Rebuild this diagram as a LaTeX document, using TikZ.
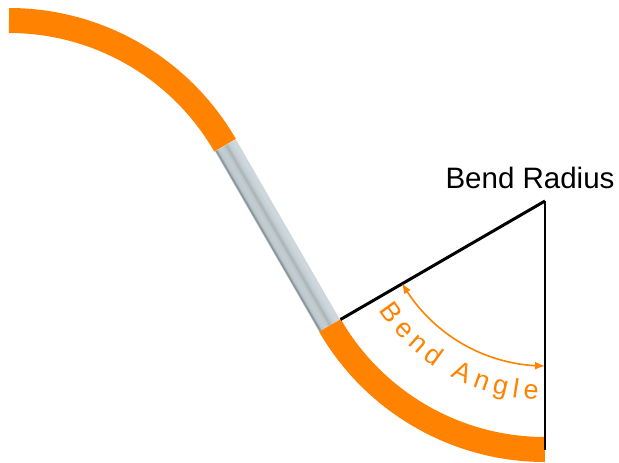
\documentclass[tikz,border=0pt]{standalone}
\usepackage{fontspec}
\setmainfont{Liberation Sans}
\usetikzlibrary{arrows.meta,decorations.text,bending}
\definecolor{bendorange}{HTML}{FF8200}
\definecolor{tubelight}{HTML}{CDD7DC}
\definecolor{tubepale}{HTML}{C3CED3}
\definecolor{tubemid}{HTML}{AAB4B6}
\definecolor{tubesoft}{HTML}{BCC6CA}
\definecolor{tubedark}{HTML}{7F8C94}
\pgfdeclareverticalshading{tubeshade}{100bp}{
  color(0bp)=(tubelight);
  color(25bp)=(tubelight);
  color(33bp)=(tubelight);
  color(42bp)=(tubepale);
  color(49bp)=(tubemid);
  color(53bp)=(tubesoft);
  color(60bp)=(tubepale);
  color(68bp)=(tubesoft);
  color(73bp)=(tubedark);
  color(75bp)=(tubesoft);
  color(100bp)=(tubesoft)}
\tikzset{
  pipe/.style={bendorange,line width=25pt},
  radiusline/.style={black,line cap=butt},
  anglearrow/.style={bendorange,line width=1.6pt,{Latex[length=10pt,width=8pt,flex]}-{Latex[length=10pt,width=8pt,flex]}},
  labeltext/.style={inner sep=0pt,font=\fontsize{29.5}{31}\selectfont,text=black}
}
\begin{document}
\begin{tikzpicture}[x=1pt,y=1pt]
\useasboundingbox (0,-463) rectangle (619,0);
\coordinate (apex) at (545,-201);
\coordinate (upcentre) at (9,-270);
\coordinate (hub) at (340.5,-319.5);
\coordinate (foot) at (545,-450);
% upper bend
\draw[pipe] (upcentre) ++(90:249.5) arc[start angle=90,end angle=30,radius=249.5];
% lower bend
\draw[pipe] (apex) ++(210:248.5) arc[start angle=210,end angle=270,radius=248.5];
% straight tube
\begin{scope}[transform canvas={shift={(277.5pt,-235.5pt)},rotate=120}]
\node[name=tube,rectangle,inner sep=0pt,minimum width=208pt,minimum height=24pt,shading=tubeshade] at (0,0) {};
\end{scope}
% radius lines
\draw[radiusline,line width=3pt] (apex) -- (hub);
\draw[radiusline,line width=2.4pt] (apex) -- (foot);
% angle arrow
\draw[anglearrow] (apex) ++(210:165) arc[start angle=210,end angle=270,radius=165];
% curved label
\begin{scope}
\fontsize{27}{29}\selectfont
\path[decorate,decoration={text along path,text align={fit to path},
  text={|\color{bendorange}|Bend Angle}}]
  (apex) ++(213.5:199) arc[start angle=213.5,end angle=268,radius=199];
\end{scope}
\node[name=radiuslabel,labeltext] at (530,-178) {Bend Radius};
\end{tikzpicture}
\end{document}
